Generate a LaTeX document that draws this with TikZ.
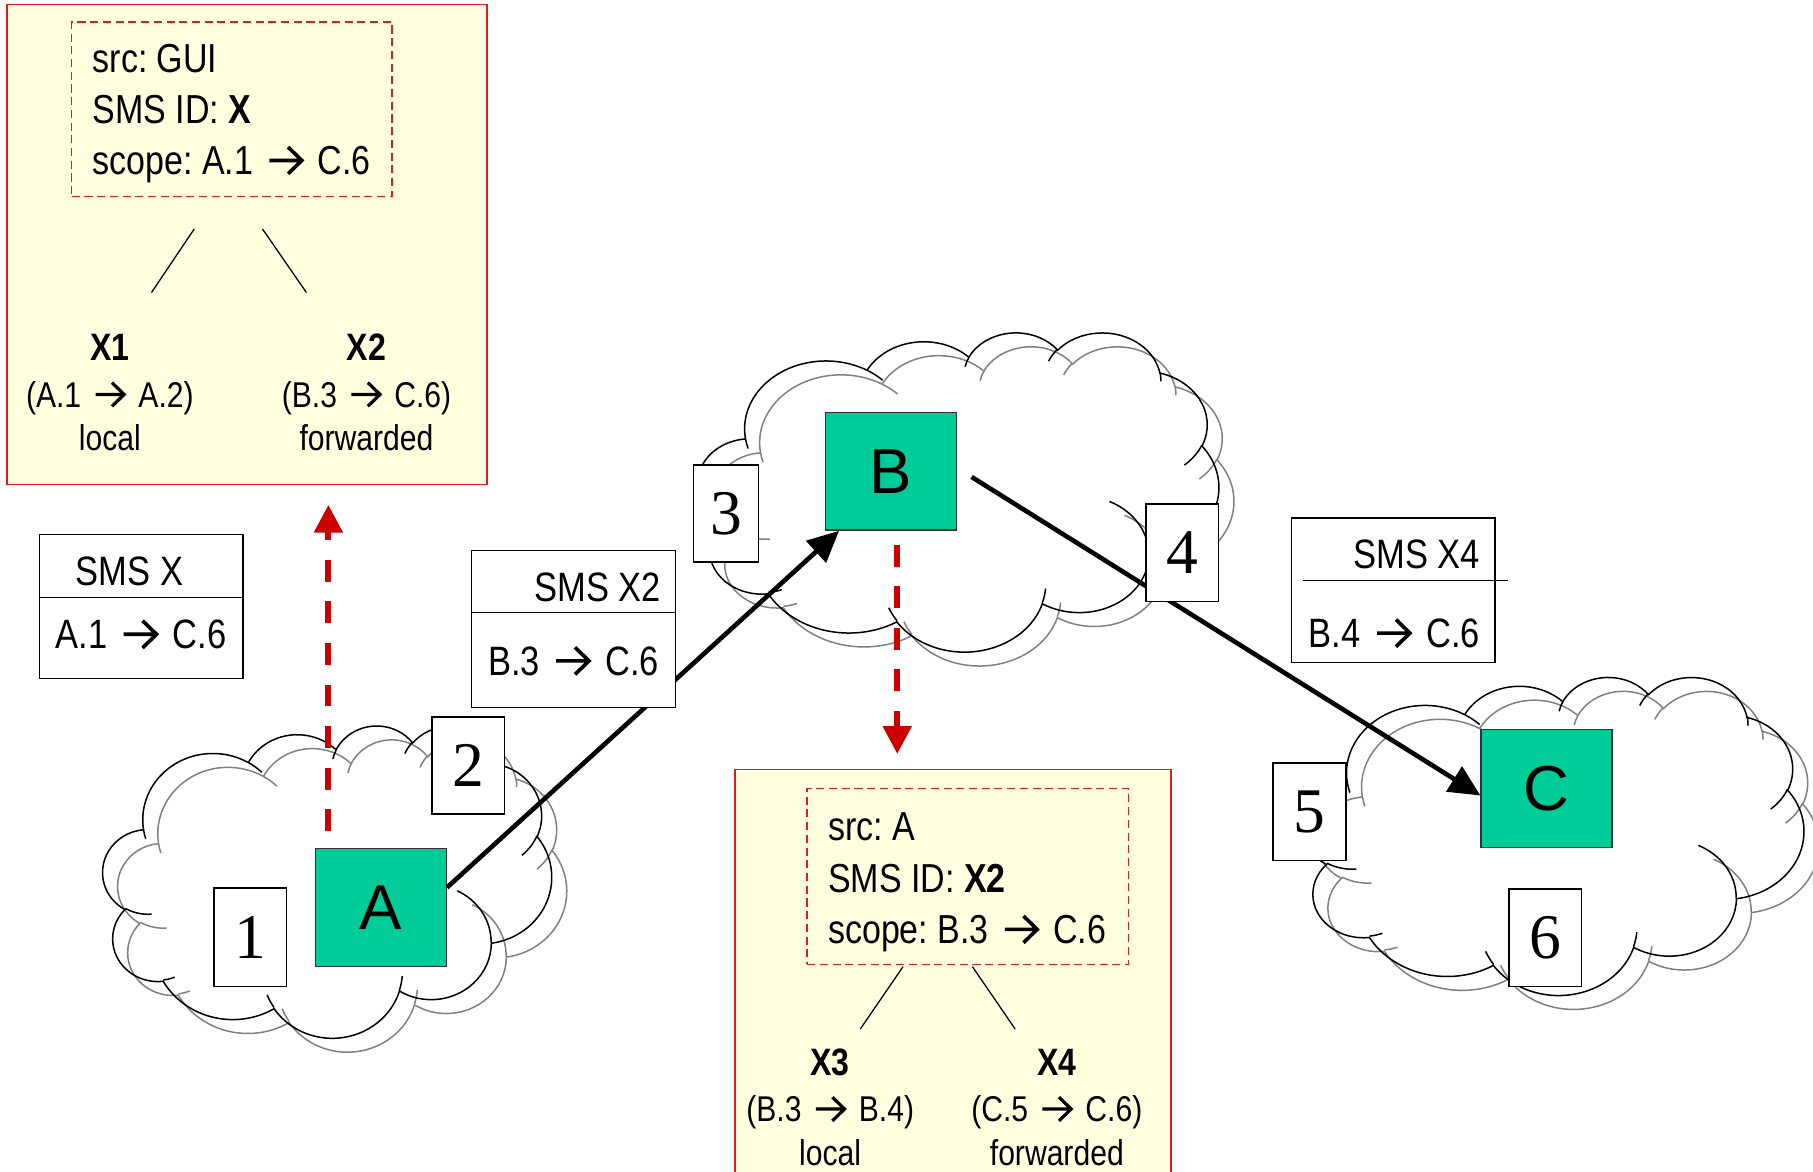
\documentclass[tikz,border=0pt]{standalone}
\usepackage{fontspec}
\setmainfont{Liberation Sans}[FakeStretch=0.84]
\newfontfamily\hostfont{Liberation Sans}
\newfontfamily\portfont{Liberation Serif}
\usetikzlibrary{arrows.meta}
\frenchspacing

\definecolor{hostgreen}{RGB}{0,204,153}
\definecolor{memored}{RGB}{220,30,30}
\definecolor{flowred}{RGB}{204,0,0}
\definecolor{memofill}{RGB}{255,255,224}
\definecolor{shadowgray}{RGB}{128,128,128}

%the bold arrow used inside the texts
\newcommand\ra{\hspace{.12em}\tikz[baseline=0pt, x=1em, y=1em, line width=.09em]
  \draw (0,.35) -- (.78,.35) (.46,.02) -- (.8,.35) -- (.46,.68);\hspace{.12em}}

%one bump of the cloud, angles as seen on the page
\newcommand\puff[4]{arc[x radius=#1, y radius=#2,
  start angle={atan2(#1*sin(#3),#2*cos(#3))},
  delta angle={mod(atan2(#1*sin(#3+#4),#2*cos(#3+#4))-atan2(#1*sin(#3),#2*cos(#3))+720,360)}]}

%cloud outline in a 432 x 432 box
\newcommand\cloudpath{%
  (39.00,143.70) \puff{67.53}{91.90}{-190.4875}{123.7805}
  \puff{53.33}{72.67}{-144.1024}{89.9452}
  \puff{43.65}{59.45}{-145.8079}{99.7230}
  \puff{48.57}{65.95}{-130.9861}{117.2417}
  \puff{53.33}{72.73}{-78.7089}{109.0269}
  \puff{67.75}{92.20}{-46.2673}{130.2690}
  \puff{57.85}{78.67}{0.6250}{114.0333}
  \puff{67.52}{92.15}{22.4516}{115.1726}
  \puff{77.20}{105.43}{66.2426}{75.7110}
  \puff{43.60}{59.18}{-274.9421}{146.7356}
  \puff{43.45}{59.45}{-246.8285}{152.5189} -- cycle
  (46.93,261.77) \puff{43.45}{59.45}{86.7420}{26.4295}
  (69.28,348.99) \puff{43.60}{59.18}{73.6105}{11.4475}
  (164.78,390.90) \puff{67.52}{92.15}{137.6242}{14.0811}
  (288.27,347.51) \puff{67.52}{92.15}{6.4533}{15.9984}
  (341.29,229.54) \puff{57.85}{78.67}{-70.2924}{70.9174}
  (417.98,153.54) \puff{53.33}{72.73}{30.3180}{27.7515}
  (383.24,54.26) \puff{48.57}{65.95}{-13.7443}{14.8622}
  (290.78,39.52) \puff{48.57}{65.95}{-149.1815}{18.1954}
  (221.41,47.20) \puff{43.65}{59.45}{-163.4943}{17.6864}
  (140.00,51.92) \puff{67.53}{91.90}{-66.7070}{12.3194}
  (41.27,157.89) \puff{67.53}{91.90}{157.6544}{11.8582}}

\newcommand\drawcloud[4]{%
  \begin{scope}[shift={(#1+13,#2+12)}, xscale=#3/432, yscale=#4/432]
    \draw[cloudshade] \cloudpath;
  \end{scope}
  \begin{scope}[shift={(#1,#2)}, xscale=#3/432, yscale=#4/432]
    \draw[cloudline] \cloudpath;
  \end{scope}}

\begin{document}
\begin{tikzpicture}[x=1pt, y=-1pt,
  host/.style={draw=black!80, line width=1.2pt, fill=hostgreen, minimum width=113pt, minimum height=102pt, inner sep=0pt, font=\hostfont\fontsize{55}{55}\selectfont},
  port/.style={draw, line width=1.2pt, fill=white, minimum width=63pt, minimum height=84pt, inner sep=0pt, font=\portfont\fontsize{55}{55}\selectfont},
  sms/.style={draw, line width=1.2pt, fill=white, inner sep=0pt},
  smstext/.style={inner sep=0pt, anchor=base, font=\fontsize{35.5}{36}\selectfont},
  memo/.style={draw=memored, line width=1.3pt, fill=memofill, inner sep=0pt},
  scopebox/.style={draw=memored, line width=1.2pt, dash pattern=on 7pt off 4pt, inner sep=0pt},
  memotext/.style={inner sep=0pt, anchor=base west, font=\fontsize{35}{35}\selectfont},
  partname/.style={inner sep=0pt, anchor=base, font=\bfseries\fontsize{33}{33}\selectfont},
  parttext/.style={inner sep=0pt, anchor=base, font=\fontsize{31}{31}\selectfont},
  leg/.style={line width=1.1pt},
  flow/.style={line width=4pt, -{Triangle[length=27pt, width=25pt]}},
  trace/.style={line width=5pt, flowred, dash pattern=on 19pt off 17pt, -{Triangle[length=24pt, width=24pt]}},
  cloudline/.style={line width=1.3pt},
  cloudshade/.style={line width=1.3pt, shadowgray}]

	\useasboundingbox (0,0) rectangle (1568,1013);
	\clip (0,0) rectangle (1568,1013);

	%memo of A
	\node[memo, minimum width=415pt, minimum height=415pt] (memoA) at (213.5,211.5) {};
	\node[scopebox, minimum width=277pt, minimum height=151pt] (scopeA) at (200.5,94.5) {};
	\node[memotext] (srcA) at (80,63) {src: GUI};
	\node[memotext] (idA) at (80,107) {SMS ID: \textbf{X}};
	\node[memotext] (rangeA) at (80,151) {scope: A.1 \ra{} C.6};
	\coordinate (legA1) at (168,198);
	\coordinate (legA2) at (227,198);
	\coordinate (footA1) at (131,253);
	\coordinate (footA2) at (265,253);
	\draw[leg] (legA1) -- (footA1);
	\draw[leg] (legA2) -- (footA2);
	\node[partname] (partX1) at (95,312) {X1};
	\node[parttext] (pathX1) at (95,352) {(A.1 \ra{} A.2)};
	\node[parttext] (kindX1) at (95,390) {local};
	\node[partname] (partX2) at (317,312) {X2};
	\node[parttext] (pathX2) at (317,352) {(B.3 \ra{} C.6)};
	\node[parttext] (kindX2) at (317,390) {forwarded};

	%memo of B
	\node[memo, minimum width=377pt, minimum height=380pt, anchor=north west] (memoB) at (635,665) {};
	\node[scopebox, minimum width=278pt, minimum height=152pt] (scopeB) at (837,758) {};
	\node[memotext] (srcB) at (716,727) {src: A};
	\node[memotext] (idB) at (716,772) {SMS ID: \textbf{X2}};
	\node[memotext] (rangeB) at (716,816) {scope: B.3 \ra{} C.6};
	\coordinate (legB1) at (781,836);
	\coordinate (legB2) at (841,836);
	\coordinate (footB1) at (744,890);
	\coordinate (footB2) at (878,890);
	\draw[leg] (legB1) -- (footB1);
	\draw[leg] (legB2) -- (footB2);
	\node[partname] (partX3) at (718,930) {X3};
	\node[parttext] (pathX3) at (718,970) {(B.3 \ra{} B.4)};
	\node[parttext] (kindX3) at (718,1008) {local};
	\node[partname] (partX4) at (914,930) {X4};
	\node[parttext] (pathX4) at (914,970) {(C.5 \ra{} C.6)};
	\node[parttext] (kindX4) at (914,1008) {forwarded};

	%clouds
	\drawcloud{89}{627}{388}{270}
	\drawcloud{604}{287}{450}{276}
	\drawcloud{1126}{585}{434}{275}

	%hosts
	\node[host] (hostA) at (329.5,785) {A};
	\node[host] (hostB) at (770.5,407.5) {B};
	\node[host] (hostC) at (1337.5,682) {C};

	%path of the sms
	\draw[flow] (hostA.17) -- (hostB.229);
	\draw[flow, shorten <=15pt] (hostB.3) -- (hostC.186);

	%memo lookups
	\coordinate (traceA) at (284,719);
	\coordinate (traceB) at (776,471);
	\draw[trace, shorten >=17pt] (traceA) -- (traceA |- memoA.south);
	\draw[trace, shorten >=13pt] (traceB) -- (traceB |- memoB.north);

	%sms labels
	\node[sms, minimum width=176pt, minimum height=125pt] (smsX) at (122,524.5) {};
	\draw[leg] (smsX.west |- 0,517) -- (smsX.east |- 0,517);
	\node[smstext] (smsXname) at (112,506) {SMS X};
	\node[smstext] (smsXpath) at (122,561) {A.1 \ra{} C.6};

	\node[sms, minimum width=176pt, minimum height=136pt] (smsX2) at (496,544) {};
	\draw[leg] (smsX2.west |- 0,530) -- (smsX2.east |- 0,530);
	\node[smstext, anchor=base east] (smsX2name) at (572,520) {SMS X2};
	\node[smstext] (smsX2path) at (496,584) {B.3 \ra{} C.6};

	\node[sms, minimum width=176pt, minimum height=125pt] (smsX4) at (1205,510.5) {};
	\draw[leg] (1127,502) -- (1304,502);
	\node[smstext, anchor=base east] (smsX4name) at (1280,492) {SMS X4};
	\node[smstext] (smsX4path) at (1206,560) {B.4 \ra{} C.6};

	%ports
	\node[port, minimum height=85pt] (port1) at (216.5,810.5) {1};
	\node[port] (port2) at (405,662) {2};
	\node[port, minimum width=56pt] (port3) at (628,444) {3};
	\node[port] (port4) at (1022.5,478) {4};
	\node[port] (port5) at (1132.5,702) {5};
	\node[port] (port6) at (1336.5,811) {6};

\end{tikzpicture}
\end{document}
